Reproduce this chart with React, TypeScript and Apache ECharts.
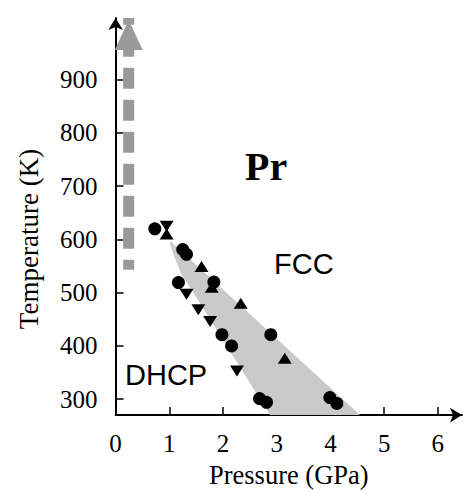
import React, { useEffect, useRef } from "react";
import * as echarts from "echarts";

// ---- data ----
const xTickValues = [0, 1, 2, 3, 4, 5, 6];
const xTickMarks = [1, 2, 3, 4, 5, 6];
const yTickValues = [300, 400, 500, 600, 700, 800, 900];

// black circles (Pressure GPa, Temperature K)
const circleP = [0.73, 1.25, 1.32, 1.17, 1.83, 1.98, 2.16, 2.89, 2.68, 2.81, 3.99, 4.12];
const circleT = [620, 581, 572, 519, 520, 421, 400, 421, 301, 294, 303, 292];

// upward triangles
const upP = [0.95, 1.6, 1.79, 2.33, 3.15];
const upT = [610, 549, 510, 480, 377];

// downward triangles
const downP = [0.95, 1.32, 1.54, 1.76, 2.26];
const downT = [625, 497, 468, 446, 353];

// grey two-phase region outline
const regionP = [1.01, 1.04, 1.07, 4.55, 2.875, 1.417, 1.231, 1.106];
const regionT = [592, 596, 592, 270, 270, 505, 533, 564];

// grey dashed arrow (ambient-pressure heating path)
const arrowP = [0.244, 0.244];
const arrowT = [543, 1016];
const arrowHeadP = [0.244];
const arrowHeadT = [984];

const serif = "'Liberation Serif', 'Times New Roman', serif";
const sans = "'Liberation Sans', Arial, sans-serif";

export default function App() {
  const ref = useRef<HTMLDivElement>(null);

  useEffect(() => {
    if (!ref.current) return;
    const chart = echarts.init(ref.current, undefined, { renderer: "svg" });

    const regionData = regionP.map((p, i) => [p, regionT[i]]);

    const option: any = {
      animation: false,
      backgroundColor: "#ffffff",
      grid: { left: 115.6, right: 7, top: 18, bottom: 75.7, containLabel: false },
      xAxis: {
        type: "value",
        min: 0,
        max: 6.45,
        interval: 1,
        name: "Pressure (GPa)",
        nameLocation: "middle",
        nameGap: 37,
        nameTextStyle: { fontFamily: serif, fontSize: 26.5, color: "#000000" },
        axisLine: {
          show: true,
          onZero: false,
          symbol: ["none", "arrow"],
          symbolSize: [11, 12],
          lineStyle: { color: "#000", width: 2 },
        },
        axisTick: {
          show: true,
          inside: true,
          length: 8,
          customValues: xTickMarks,
          lineStyle: { color: "#000", width: 1.5 },
        },
        axisLabel: {
          customValues: xTickValues,
          fontFamily: serif,
          fontSize: 25,
          color: "#000",
          margin: 16,
        },
        splitLine: { show: false },
      },
      yAxis: {
        type: "value",
        min: 270,
        max: 1016,
        axisLine: {
          show: true,
          onZero: false,
          symbol: ["none", "arrow"],
          symbolSize: [11, 12],
          lineStyle: { color: "#000", width: 2 },
        },
        axisTick: {
          show: true,
          inside: true,
          length: 8,
          customValues: yTickValues,
          lineStyle: { color: "#000", width: 1.5 },
        },
        axisLabel: {
          customValues: yTickValues,
          fontFamily: serif,
          fontSize: 25,
          color: "#000",
          margin: 18,
        },
        splitLine: { show: false },
      },
      series: [
        {
          type: "custom",
          name: "region",
          z: 1,
          silent: true,
          data: regionData,
          renderItem: (params: any, api: any) => {
            if (params.dataIndex !== 0) return { type: "group", children: [] };
            const pts = regionData.map((d) => api.coord(d));
            return {
              type: "polygon",
              shape: { points: pts },
              style: { fill: "#c9c9c9", stroke: "none" },
            };
          },
        },
        {
          type: "line",
          name: "path",
          z: 3,
          data: arrowP.map((p, i) => [p, arrowT[i]]),
          symbol: "none",
          lineStyle: { color: "#9a9a9a", width: 11, type: [21, 11], dashOffset: 11, cap: "butt", opacity: 1 },
        },
        {
          type: "scatter",
          name: "arrowhead",
          z: 4,
          data: arrowHeadP.map((p, i) => [p, arrowHeadT[i]]),
          symbol: "triangle",
          symbolSize: [28, 30],
          itemStyle: { color: "#9a9a9a", opacity: 1 },
        },
        {
          type: "scatter",
          name: "circles",
          z: 5,
          data: circleP.map((p, i) => [p, circleT[i]]),
          symbol: "circle",
          symbolSize: 13,
          itemStyle: { color: "#000", opacity: 1 },
        },
        {
          type: "scatter",
          name: "up",
          z: 5,
          data: upP.map((p, i) => [p, upT[i]]),
          symbol: "triangle",
          symbolSize: [14, 11],
          itemStyle: { color: "#000", opacity: 1 },
        },
        {
          type: "scatter",
          name: "down",
          z: 5,
          data: downP.map((p, i) => [p, downT[i]]),
          symbol: "triangle",
          symbolRotate: 180,
          symbolSize: [14, 11],
          itemStyle: { color: "#000", opacity: 1 },
        },
      ],
      graphic: [
        {
          type: "text",
          x: 29,
          y: 239,
          rotation: Math.PI / 2,
          style: {
            text: "Temperature (K)",
            fontFamily: serif,
            fontSize: 27,
            fill: "#000",
            align: "center",
            verticalAlign: "middle",
          },
        },
        {
          type: "text",
          x: 245,
          y: 166,
          style: {
            text: "Pr",
            fontFamily: serif,
            fontWeight: "bold",
            fontSize: 40,
            fill: "#000",
            align: "left",
            verticalAlign: "middle",
          },
        },
        {
          type: "text",
          x: 274,
          y: 264,
          style: {
            text: "FCC",
            fontFamily: sans,
            fontSize: 29,
            fill: "#000",
            align: "left",
            verticalAlign: "middle",
          },
        },
        {
          type: "text",
          x: 125,
          y: 375,
          style: {
            text: "DHCP",
            fontFamily: sans,
            fontSize: 29,
            fill: "#000",
            align: "left",
            verticalAlign: "middle",
          },
        },
      ],
    };

    chart.setOption(option);
    return () => chart.dispose();
  }, []);

  return (
    <div
      ref={ref}
      style={{ position: "fixed", left: 0, top: 0, width: 469, height: 493, background: "#fff" }}
    />
  );
}
